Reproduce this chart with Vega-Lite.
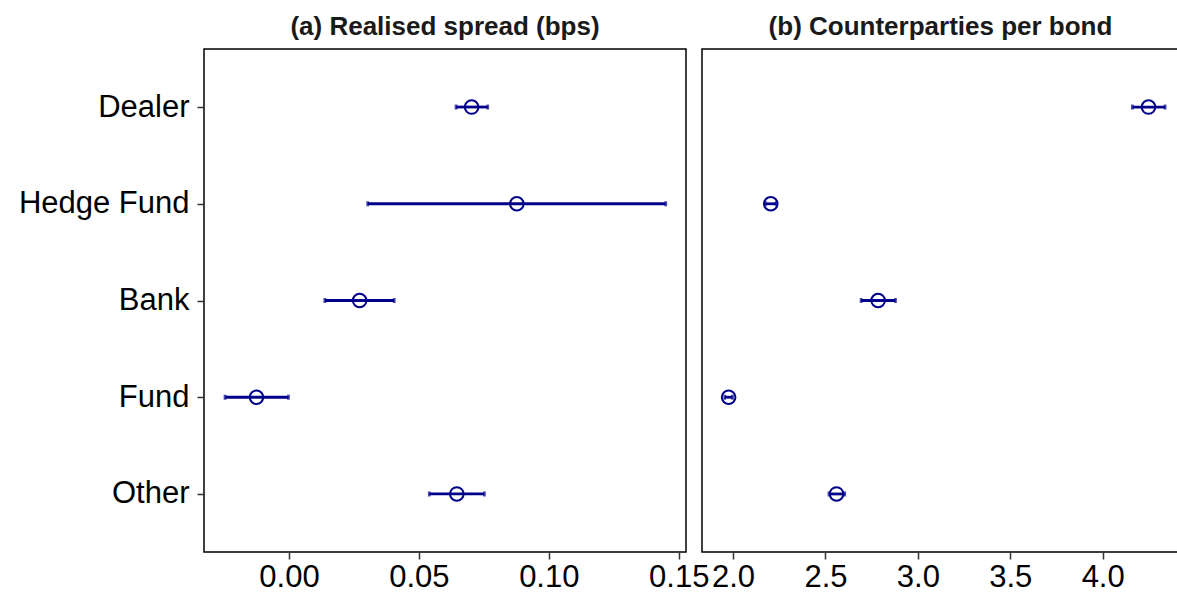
{
  "$schema": "https://vega.github.io/schema/vega-lite/v6.json",
  "padding": {"left": 0, "top": 13, "right": 0, "bottom": 0},
  "background": "white",
  "bounds": "flush",
  "config": {
    "font": "Liberation Sans",
    "view": {"stroke": "black", "strokeWidth": 1.5},
    "axis": {"grid": false, "domain": false, "tickColor": "#333333", "tickSize": 7, "tickWidth": 1.5, "labelFontSize": 31, "labelColor": "#000000", "labelFlush": false, "labelOverlap": false, "title": null},
    "title": {"fontSize": 26, "fontWeight": "bold", "color": "#1a1a1a", "offset": 9},
    "concat": {"spacing": 16}
  },
  "datasets": {
    "spread": [
      {"type": "Dealer", "est": 0.0703, "lo": 0.0643, "hi": 0.0765},
      {"type": "Hedge Fund", "est": 0.0877, "lo": 0.0303, "hi": 0.1450},
      {"type": "Bank", "est": 0.0272, "lo": 0.0138, "hi": 0.0405},
      {"type": "Fund", "est": -0.0125, "lo": -0.0246, "hi": -0.0002},
      {"type": "Other", "est": 0.0646, "lo": 0.0540, "hi": 0.0752}
    ],
    "cp": [
      {"type": "Dealer", "est": 4.248, "lo": 4.161, "hi": 4.338},
      {"type": "Hedge Fund", "est": 2.204, "lo": 2.175, "hi": 2.233},
      {"type": "Bank", "est": 2.785, "lo": 2.693, "hi": 2.879},
      {"type": "Fund", "est": 1.976, "lo": 1.955, "hi": 1.997},
      {"type": "Other", "est": 2.560, "lo": 2.519, "hi": 2.604}
    ]
  },
  "hconcat": [
    {
      "width": 482,
      "height": 503,
      "title": {"text": "(a) Realised spread (bps)"},
      "data": {"name": "spread"},
      "encoding": {
        "y": {"field": "type", "type": "nominal", "sort": ["Dealer", "Hedge Fund", "Bank", "Fund", "Other"], "scale": {"type": "point", "padding": 0.6}, "axis": {"title": null, "labelPadding": 8, "minExtent": 203, "maxExtent": 203}}
      },
      "layer": [
        {
          "mark": {"type": "rule", "color": "#00008B", "strokeWidth": 2.8},
          "encoding": {
            "x": {"field": "lo", "type": "quantitative", "scale": {"domain": [-0.0327, 0.1528], "nice": false, "zero": false}, "axis": {"values": [0, 0.05, 0.1, 0.15], "format": ".2f", "labelPadding": 3}},
            "x2": {"field": "hi"}
          }
        },
        {
          "mark": {"type": "tick", "orient": "vertical", "color": "#00008B", "size": 5, "thickness": 2.8},
          "encoding": {"x": {"field": "lo", "type": "quantitative"}}
        },
        {
          "mark": {"type": "tick", "orient": "vertical", "color": "#00008B", "size": 5, "thickness": 2.8},
          "encoding": {"x": {"field": "hi", "type": "quantitative"}}
        },
        {
          "mark": {"type": "point", "shape": "circle", "filled": false, "color": "#00008B", "size": 185, "strokeWidth": 2, "opacity": 1},
          "encoding": {"x": {"field": "est", "type": "quantitative"}}
        }
      ]
    },
    {
      "width": 477,
      "height": 503,
      "title": {"text": "(b) Counterparties per bond"},
      "data": {"name": "cp"},
      "encoding": {
        "y": {"field": "type", "type": "nominal", "sort": ["Dealer", "Hedge Fund", "Bank", "Fund", "Other"], "scale": {"type": "point", "padding": 0.6}, "axis": null}
      },
      "layer": [
        {
          "mark": {"type": "rule", "color": "#00008B", "strokeWidth": 2.8},
          "encoding": {
            "x": {"field": "lo", "type": "quantitative", "scale": {"domain": [1.832, 4.413], "nice": false, "zero": false}, "axis": {"values": [2, 2.5, 3, 3.5, 4], "format": ".1f", "labelPadding": 3}},
            "x2": {"field": "hi"}
          }
        },
        {
          "mark": {"type": "tick", "orient": "vertical", "color": "#00008B", "size": 5, "thickness": 2.8},
          "encoding": {"x": {"field": "lo", "type": "quantitative"}}
        },
        {
          "mark": {"type": "tick", "orient": "vertical", "color": "#00008B", "size": 5, "thickness": 2.8},
          "encoding": {"x": {"field": "hi", "type": "quantitative"}}
        },
        {
          "mark": {"type": "point", "shape": "circle", "filled": false, "color": "#00008B", "size": 185, "strokeWidth": 2, "opacity": 1},
          "encoding": {"x": {"field": "est", "type": "quantitative"}}
        }
      ]
    }
  ]
}
